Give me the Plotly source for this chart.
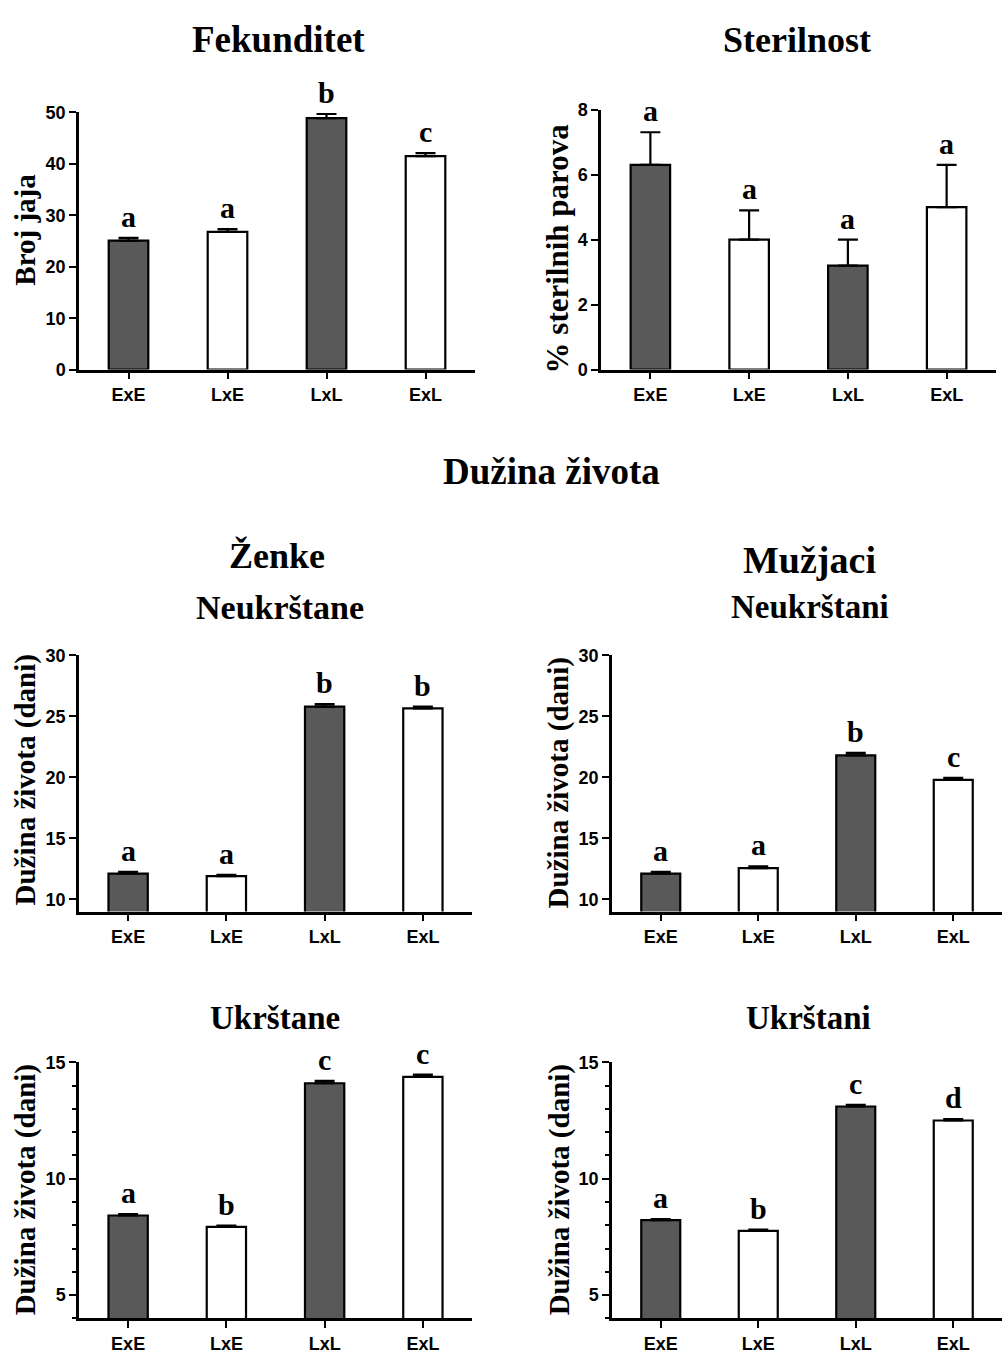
import plotly.graph_objects as go

W, H = 1002, 1358

categories = ["ExE", "LxE", "LxL", "ExL"]
bar_colors = ["#595959", "#ffffff", "#595959", "#ffffff"]

fek_mean = [25.1, 26.8, 48.9, 41.5]
fek_err = [0.5, 0.5, 0.8, 0.6]
fek_letters = ["a", "a", "b", "c"]

ster_mean = [6.3, 4.0, 3.2, 5.0]
ster_err = [1.0, 0.9, 0.8, 1.3]
ster_letters = ["a", "a", "a", "a"]

zen_neuk_mean = [12.1, 11.9, 25.8, 25.65]
zen_neuk_err = [0.15, 0.1, 0.2, 0.15]
zen_neuk_letters = ["a", "a", "b", "b"]

muz_neuk_mean = [12.1, 12.55, 21.8, 19.8]
muz_neuk_err = [0.15, 0.15, 0.2, 0.15]
muz_neuk_letters = ["a", "a", "b", "c"]

zen_uk_mean = [8.42, 7.93, 14.1, 14.37]
zen_uk_err = [0.06, 0.06, 0.1, 0.1]
zen_uk_letters = ["a", "b", "c", "c"]

muz_uk_mean = [8.22, 7.76, 13.1, 12.5]
muz_uk_err = [0.05, 0.05, 0.07, 0.06]
muz_uk_letters = ["a", "b", "c", "d"]

panels = [
    dict(mean=fek_mean, err=fek_err, letters=fek_letters, px=(79, 475), py=(104, 365),
         yr=[0, 50], dt=10, minor=False, yt="Broj jaja", ytx=25, yty=223, yts=29),
    dict(mean=ster_mean, err=ster_err, letters=ster_letters, px=(601, 996), py=(101, 365),
         yr=[0, 8], dt=2, minor=False, yt="% sterilnih parova", ytx=557, yty=242, yts=31),
    dict(mean=zen_neuk_mean, err=zen_neuk_err, letters=zen_neuk_letters, px=(79, 472), py=(655, 915),
         yr=[9, 30], dt=5, minor=False, yt="Dužina života (dani)", ytx=25, yty=782, t0=10, yts=29),
    dict(mean=muz_neuk_mean, err=muz_neuk_err, letters=muz_neuk_letters, px=(612, 1002), py=(655, 915),
         yr=[9, 30], dt=5, minor=False, yt="Dužina života (dani)", ytx=558, yty=785, t0=10, yts=29),
    dict(mean=zen_uk_mean, err=zen_uk_err, letters=zen_uk_letters, px=(79, 472), py=(1068, 1328),
         yr=[4, 15], dt=5, minor=True, yt="Dužina života (dani)", ytx=25, yty=1198, t0=5, yts=29),
    dict(mean=muz_uk_mean, err=muz_uk_err, letters=muz_uk_letters, px=(612, 1002), py=(1068, 1328),
         yr=[4, 15], dt=5, minor=True, yt="Dužina života (dani)", ytx=559, yty=1198, t0=5, yts=29),
]

SERIF = "Liberation Serif"
SANS = "Liberation Sans"

fig = go.Figure()
annotations = []
layout_axes = {}

for i, p in enumerate(panels, start=1):
    xa = "x" if i == 1 else f"x{i}"
    ya = "y" if i == 1 else f"y{i}"
    fig.add_trace(go.Bar(
        x=categories, y=p["mean"], xaxis=xa, yaxis=ya,
        width=0.4,
        marker=dict(color=bar_colors, line=dict(color="black", width=2.2)),
        error_y=dict(type="data", array=p["err"], arrayminus=[0] * 4, symmetric=False,
                     color="black", thickness=2.2, width=10),
        showlegend=False,
    ))
    x0, x1 = p["px"]
    yt, yb = p["py"]
    xkey = "xaxis" if i == 1 else f"xaxis{i}"
    ykey = "yaxis" if i == 1 else f"yaxis{i}"
    layout_axes[xkey] = dict(
        domain=[x0 / W, x1 / W], anchor=ya, range=[-0.5, 3.5],
        showline=True, linecolor="black", linewidth=2.5,
        ticks="outside", ticklen=7, tickwidth=2, tickcolor="black",
        tickfont=dict(family=SANS, size=18, color="black", weight="bold"),
        showgrid=False, zeroline=False, fixedrange=True,
    )
    yax = dict(
        domain=[1 - yb / H, 1 - yt / H], anchor=xa, range=p["yr"],
        showline=True, linecolor="black", linewidth=2.5,
        ticks="outside", ticklen=7, tickwidth=2, tickcolor="black",
        tick0=p.get("t0", 0), dtick=p["dt"],
        tickfont=dict(family=SANS, size=18, color="black", weight="bold"),
        showgrid=False, zeroline=False, fixedrange=True,
    )
    if p["minor"]:
        yax["minor"] = dict(dtick=1, tick0=0, ticks="outside", ticklen=4, tickwidth=2,
                            tickcolor="black", showgrid=False)
    layout_axes[ykey] = yax

    for c, m, e, lt in zip(categories, p["mean"], p["err"], p["letters"]):
        annotations.append(dict(
            x=c, y=m + e, xref=xa, yref=ya, text=lt, showarrow=False,
            yanchor="bottom", yshift=3,
            font=dict(family=SERIF, size=30, color="black", weight="bold"),
        ))
    annotations.append(dict(
        x=p["ytx"] / W, y=1 - p["yty"] / H, xref="paper", yref="paper",
        text=p["yt"], textangle=-90, showarrow=False,
        xanchor="center", yanchor="middle",
        font=dict(family=SERIF, size=p["yts"], color="black", weight="bold"),
    ))

titles = [
    ("Fekunditet", 278, 30, 37),
    ("Sterilnost", 797, 30, 36),
    ("Dužina života", 551, 468, 37),
    ("Ženke", 277, 554, 36),
    ("Mužjaci", 809, 558, 38),
    ("Neukrštane", 280, 606, 34),
    ("Neukrštani", 810, 606, 33),
    ("Ukrštane", 275, 1023, 33),
    ("Ukrštani", 808, 1023, 33),
]
for t, x, y, s in titles:
    annotations.append(dict(
        x=x / W, y=1 - y / H, xref="paper", yref="paper", text=t, showarrow=False,
        xanchor="center", yanchor="middle",
        font=dict(family=SERIF, size=s, color="black", weight="bold"),
    ))

fig.update_layout(
    width=W, height=H, margin=dict(l=0, r=0, t=0, b=0),
    paper_bgcolor="white", plot_bgcolor="white",
    annotations=annotations, bargap=0.6,
    **layout_axes,
)

fig.write_html(
    "out.html",
    config={"displayModeBar": False},
    post_script="document.body.style.margin='0';document.body.style.overflow='hidden';",
)
